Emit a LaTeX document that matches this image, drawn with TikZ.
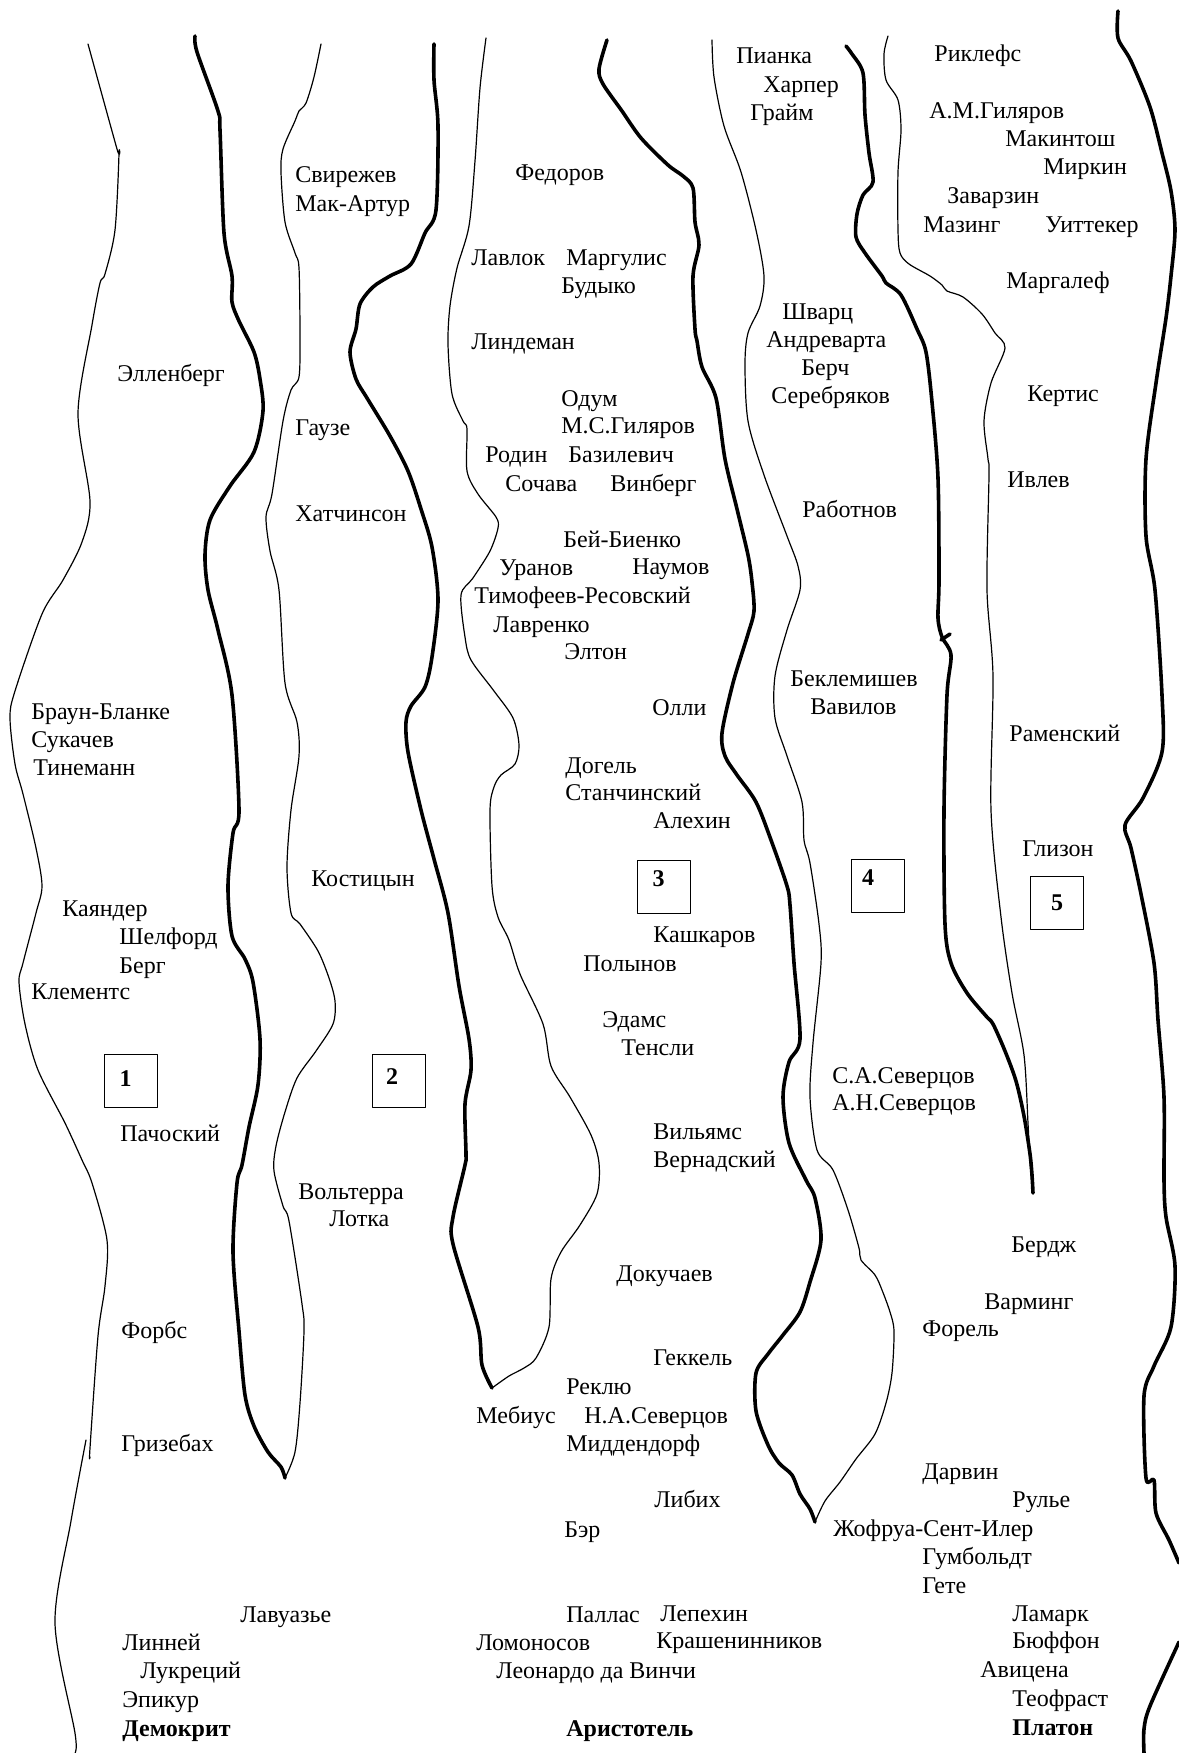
\documentclass[tikz,border=0pt]{standalone}
\usepackage{fontspec}
\setmainfont{Liberation Serif}

\begin{document}
\begin{tikzpicture}[x=0.5pt,y=-0.5pt, line cap=round, line join=round,
  edgethin/.style={line width=0.6pt},
  edgethick/.style={line width=1.8pt},
  sci/.style={anchor=west, inner sep=0pt, text height=0.66em, text depth=0pt,
    font=\fontsize{12pt}{14pt}\selectfont},
  scibold/.style={sci, font=\fontsize{12pt}{14pt}\selectfont\bfseries},
  numbox/.style={draw, line width=0.8pt, minimum size=26.5pt, inner sep=0pt,
    font=\fontsize{12pt}{14pt}\selectfont\bfseries}]

\useasboundingbox (0,0) rectangle (1179,1753);

% column borders
\draw[edgethin] plot[smooth, tension=.5] coordinates {(88,44) (117,149) (119,153) (115,230) (105,274) (100,283) (92,325) (78,413) (90,501) (82,542) (63,580) (42,614) (15,691) (10,718) (15,764) (23,794) (36,848) (42,886) (36,913) (23,963) (19,982) (25,1024) (38,1070) (65,1123) (82,1160) (92,1183) (107,1240) (105,1286) (98,1336) (90,1448) (90,1457)};
\draw[edgethin] plot[smooth, tension=.5] coordinates {(86,1440) (71,1521) (55,1623) (75,1733) (75,1753)};

\draw[edgethick] plot[smooth, tension=.5] coordinates {(195,36) (197,52) (218,111) (220,130) (224,233) (232,276) (232,302) (239,321) (254,352) (260,379) (263,411) (254,452) (230,486) (210,520) (205,555) (208,590) (218,630) (232,695) (239,810) (233,833) (228,886) (232,936) (245,959) (253,982) (260,1039) (258,1085) (249,1127) (242,1165) (237,1183) (233,1252) (239,1331) (245,1395) (254,1426) (268,1452) (281,1467) (285,1478)};

\draw[edgethin] plot[smooth, tension=.5] coordinates {(321,44) (314,77) (306,103) (299,111) (295,121) (283,149) (281,172) (285,222) (295,253) (299,268) (300,337) (299,377) (291,390) (283,421) (272,494) (266,517) (270,551) (279,590) (285,683) (297,722) (299,756) (291,810) (287,867) (291,913) (300,924) (318,951) (329,978) (335,1001) (333,1024) (316,1051) (297,1078) (285,1112) (276,1146) (274,1171) (283,1206) (289,1221) (302,1304) (304,1331) (300,1403) (295,1452) (285,1478)};

\draw[edgethick] plot[smooth, tension=.5] coordinates {(434,44) (434,80) (438,126) (436,210) (425,233) (411,264) (390,276) (373,287) (360,304) (356,329) (350,352) (356,379) (367,398) (390,436) (408,471) (421,509) (432,547) (438,600) (432,657) (425,687) (411,706) (406,722) (408,752) (421,810) (434,859) (448,913) (459,986) (469,1039) (471,1070) (465,1104) (466,1154) (465,1165) (453,1217) (453,1244) (478,1327) (482,1365) (492,1388)};

\draw[edgethin] plot[smooth, tension=.5] coordinates {(486,38) (480,88) (475,161) (469,226) (457,268) (450,306) (448,344) (452,394) (463,421) (467,429) (467,471) (478,494) (496,517) (498,528) (490,551) (473,578) (461,595) (465,637) (471,660) (494,691) (513,718) (519,745) (515,764) (501,775) (494,787) (490,810) (492,886) (498,917) (509,940) (520,974) (543,1024) (551,1066) (570,1097) (591,1135) (599,1163) (597,1194) (580,1225) (561,1252) (551,1279) (549,1327) (536,1358) (524,1368) (509,1376) (492,1388)};

\draw[edgethick] plot[smooth, tension=.5] coordinates {(607,40) (599,69) (603,84) (622,111) (641,138) (668,165) (683,176) (693,188) (695,222) (699,245) (693,276) (695,329) (697,341) (702,367) (716,398) (725,459) (737,509) (748,555) (752,582) (754,611) (748,634) (733,683) (722,733) (725,756) (737,775) (756,802) (771,840) (787,886) (790,905) (794,963) (800,1039) (789,1062) (783,1097) (789,1143) (806,1180) (815,1198) (821,1240) (810,1282) (800,1312) (783,1335) (768,1354) (756,1373) (756,1411) (768,1445) (779,1463) (792,1475) (800,1494) (810,1509) (815,1522)};

\draw[edgethin] plot[smooth, tension=.5] coordinates {(712,40) (714,77) (724,126) (741,172) (756,230) (764,276) (760,306) (748,333) (745,364) (748,421) (764,475) (787,536) (798,566) (800,590) (787,630) (775,676) (775,718) (787,756) (802,802) (804,840) (810,863) (819,924) (821,963) (813,1043) (810,1097) (817,1150) (833,1170) (848,1210) (859,1248) (861,1260) (875,1275) (882,1290) (890,1312) (894,1331) (892,1373) (886,1403) (875,1434) (856,1459) (840,1482) (825,1501) (815,1522)};

\draw[edgethick] plot[smooth, tension=.5] coordinates {(846,46) (852,54) (863,73) (865,115) (869,153) (873,182) (863,195) (857,214) (856,237) (865,253) (882,276) (886,283) (901,295) (917,329) (926,352) (932,402) (938,478) (939,580) (938,618) (942,637) (951,655) (947,695) (944,810) (945,924) (951,963) (967,993) (986,1016) (993,1024) (1005,1051) (1016,1081) (1024,1116) (1030,1154) (1032,1175) (1033,1193)};
\draw[edgethick] (941,640) -- (950,634);

\draw[edgethin] plot[smooth, tension=.5] coordinates {(888,36) (884,54) (886,80) (898,100) (901,130) (898,172) (898,230) (900,253) (909,264) (930,276) (942,285) (947,291) (963,297) (982,314) (995,333) (1005,348) (991,383) (984,421) (988,459) (989,475) (987,590) (993,676) (991,810) (1001,917) (1012,993) (1024,1055) (1028,1123) (1030,1162) (1033,1193)};

\draw[edgethick] plot[smooth, tension=.5] coordinates {(1118,11) (1118,38) (1131,61) (1150,107) (1162,153) (1171,191) (1175,230) (1171,276) (1166,318) (1156,383) (1146,459) (1146,536) (1155,590) (1162,695) (1162,752) (1143,798) (1125,825) (1131,848) (1141,894) (1154,963) (1158,1020) (1164,1097) (1164,1180) (1166,1217) (1175,1266) (1171,1327) (1154,1366) (1144,1396) (1146,1478) (1154,1480) (1156,1513) (1169,1540) (1179,1563)};
\draw[edgethick] plot[smooth, tension=.5] coordinates {(1179,1642) (1150,1706) (1144,1729) (1144,1753)};

% boxes
\node[numbox] (box1) at (131,1081) {\raisebox{1pt}[\height][\depth]{1}\kern5.5pt};
\node[numbox] (box2) at (399,1081) {\raisebox{2pt}[\height][\depth]{2}\kern7pt};
\node[numbox] (box3) at (664,887) {\raisebox{4pt}[\height][\depth]{3}\kern5.5pt};
\node[numbox] (box4) at (878,886) {\raisebox{4pt}[\height][\depth]{4}\kern10pt};
\node[numbox] (box5) at (1057,903) {5};

% column 1
\node[sci] (ellenberg) at (117,375) {Элленберг};
\node[sci] (braunblanke) at (31,713) {Браун-Бланке};
\node[sci] (sukachev) at (31,741) {Сукачев};
\node[sci] (thienemann) at (33,769) {Тинеманн};
\node[sci] (cajander) at (62,910) {Каяндер};
\node[sci] (shelford) at (119,938) {Шелфорд};
\node[sci] (berg) at (119,967) {Берг};
\node[sci] (clements) at (31,993) {Клементс};
\node[sci] (paczoski) at (120,1135) {Пачоский};
\node[sci] (forbes) at (121,1332) {Форбс};
\node[sci] (grisebach) at (121,1445) {Гризебах};

% column 2
\node[sci] (svirezhev) at (295,176) {Свирежев};
\node[sci] (macarthur) at (295,205) {Мак-Артур};
\node[sci] (gause) at (295,429) {Гаузе};
\node[sci] (hutchinson) at (295,515) {Хатчинсон};
\node[sci] (kostitzin) at (311,880) {Костицын};
\node[sci] (volterra) at (298,1193) {Вольтерра};
\node[sci] (lotka) at (329,1220) {Лотка};

% column 3
\node[sci] (fedorov) at (515,174) {Федоров};
\node[sci] (lovelock) at (471,259) {Лавлок};
\node[sci] (margulis) at (566,259) {Маргулис};
\node[sci] (budyko) at (561,287) {Будыко};
\node[sci] (lindeman) at (471,343) {Линдеман};
\node[sci] (odum) at (561,400) {Одум};
\node[sci] (msgilyarov) at (561,427) {М.С.Гиляров};
\node[sci] (rodin) at (485,456) {Родин};
\node[sci] (bazilevich) at (568,456) {Базилевич};
\node[sci] (sochava) at (505,485) {Сочава};
\node[sci] (vinberg) at (610,485) {Винберг};
\node[sci] (beibienko) at (563,541) {Бей-Биенко};
\node[sci] (uranov) at (499,569) {Уранов};
\node[sci] (naumov) at (632,568) {Наумов};
\node[sci] (timofeev) at (474,597) {Тимофеев-Ресовский};
\node[sci] (lavrenko) at (493,626) {Лавренко};
\node[sci] (elton) at (564,653) {Элтон};
\node[sci] (allee) at (652,709) {Олли};
\node[sci] (dogiel) at (565,767) {Догель};
\node[sci] (stanchinsky) at (565,794) {Станчинский};
\node[sci] (alekhin) at (653,822) {Алехин};
\node[sci] (kashkarov) at (653,936) {Кашкаров};
\node[sci] (polynov) at (583,965) {Полынов};
\node[sci] (adams) at (602,1021) {Эдамс};
\node[sci] (tansley) at (621,1049) {Тенсли};
\node[sci] (williams) at (653,1133) {Вильямс};
\node[sci] (vernadsky) at (653,1161) {Вернадский};
\node[sci] (dokuchaev) at (616,1275) {Докучаев};
\node[sci] (haeckel) at (653,1359) {Геккель};
\node[sci] (reclus) at (566,1388) {Реклю};
\node[sci] (moebius) at (476,1417) {Мебиус};
\node[sci] (nasevertsov) at (584,1417) {Н.А.Северцов};
\node[sci] (middendorf) at (566,1445) {Миддендорф};
\node[sci] (liebig) at (654,1501) {Либих};
\node[sci] (baer) at (564,1531) {Бэр};

% column 4
\node[sci] (pianka) at (736,57) {Пианка};
\node[sci] (harper) at (763,86) {Харпер};
\node[sci] (grime) at (750,114) {Грайм};
\node[sci] (schwarz) at (782,313) {Шварц};
\node[sci] (andrewartha) at (766,341) {Андреварта};
\node[sci] (birch) at (801,369) {Берч};
\node[sci] (serebryakov) at (771,397) {Серебряков};
\node[sci] (rabotnov) at (802,511) {Работнов};
\node[sci] (beklemishev) at (790,680) {Беклемишев};
\node[sci] (vavilov) at (810,708) {Вавилов};
\node[sci] (sasevertsov) at (832,1077) {С.А.Северцов};
\node[sci] (ansevertsov) at (832,1104) {А.Н.Северцов};

% column 5
\node[sci] (ricklefs) at (934,55) {Риклефс};
\node[sci] (amgilyarov) at (929,112) {А.М.Гиляров};
\node[sci] (mcintosh) at (1005,140) {Макинтош};
\node[sci] (mirkin) at (1043,168) {Миркин};
\node[sci] (zavarzin) at (947,197) {Заварзин};
\node[sci] (mazing) at (923,226) {Мазинг};
\node[sci] (whittaker) at (1045,226) {Уиттекер};
\node[sci] (margalef) at (1006,282) {Маргалеф};
\node[sci] (curtis) at (1027,395) {Кертис};
\node[sci] (ivlev) at (1007,481) {Ивлев};
\node[sci] (ramensky) at (1009,735) {Раменский};
\node[sci] (gleason) at (1022,850) {Глизон};
\node[sci] (birge) at (1011,1246) {Бердж};
\node[sci] (warming) at (984,1303) {Варминг};
\node[sci] (forel) at (922,1330) {Форель};
\node[sci] (darwin) at (922,1473) {Дарвин};
\node[sci] (rulier) at (1012,1501) {Рулье};
\node[sci] (geoffroy) at (833,1530) {Жофруа-Сент-Илер};
\node[sci] (humboldt) at (922,1558) {Гумбольдт};
\node[sci] (goethe) at (922,1587) {Гете};

% roots
\node[sci] (lavoisier) at (240,1616) {Лавуазье};
\node[sci] (linnaeus) at (122,1644) {Линней};
\node[sci] (lucretius) at (140,1672) {Лукреций};
\node[sci] (epicurus) at (122,1701) {Эпикур};
\node[scibold] (democritus) at (122,1730) {Демокрит};
\node[sci] (pallas) at (566,1616) {Паллас};
\node[sci] (lepekhin) at (660,1615) {Лепехин};
\node[sci] (lomonosov) at (476,1644) {Ломоносов};
\node[sci] (krasheninnikov) at (656,1642) {Крашенинников};
\node[sci] (leonardo) at (496,1672) {Леонардо да Винчи};
\node[scibold] (aristotle) at (566,1730) {Аристотель};
\node[sci] (lamarck) at (1012,1615) {Ламарк};
\node[sci] (buffon) at (1012,1642) {Бюффон};
\node[sci] (avicenna) at (980,1671) {Авицена};
\node[sci] (theophrastus) at (1012,1700) {Теофраст};
\node[scibold] (plato) at (1012,1729) {Платон};

\end{tikzpicture}
\end{document}
